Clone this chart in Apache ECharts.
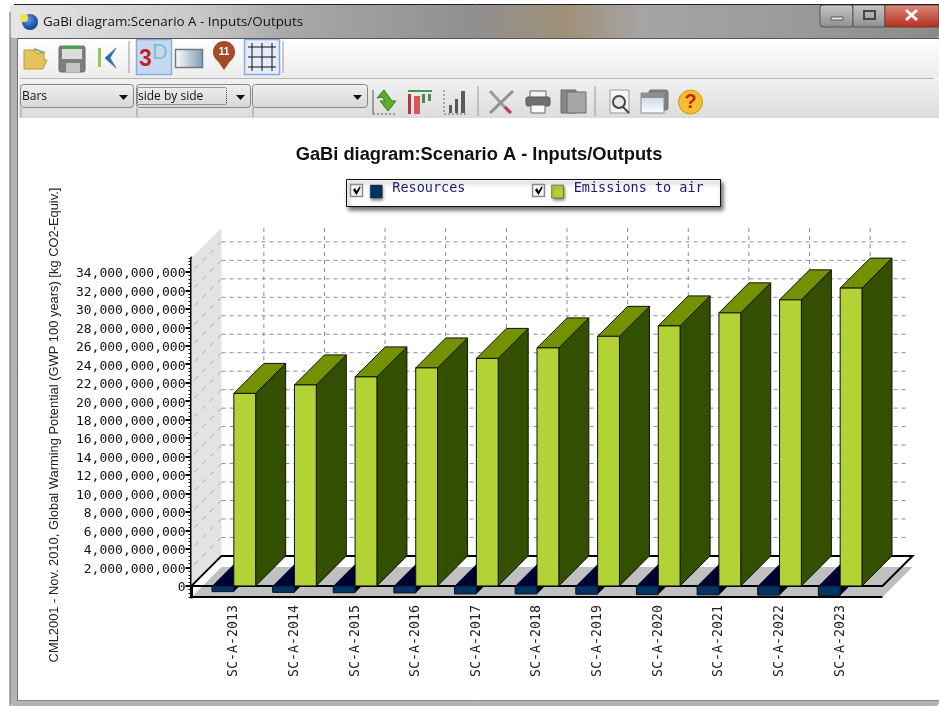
<!DOCTYPE html>
<html>
<head>
<meta charset="utf-8">
<title>GaBi diagram</title>
<style>
html,body{margin:0;padding:0;background:#fff;}
#main{width:939px;height:706px;}
</style>
<script src="https://cdn.jsdelivr.net/npm/echarts@6/dist/echarts.min.js"></script>
</head>
<body>
<div id="main"></div>
<script>
var categories = ['SC-A-2013','SC-A-2014','SC-A-2015','SC-A-2016','SC-A-2017','SC-A-2018','SC-A-2019','SC-A-2020','SC-A-2021','SC-A-2022','SC-A-2023'];
var resources = [-0.62e9,-0.70e9,-0.74e9,-0.76e9,-0.87e9,-0.87e9,-0.90e9,-0.94e9,-0.97e9,-1.0e9,-1.05e9];
var emissions = [20.84e9,21.76e9,22.63e9,23.6e9,24.63e9,25.77e9,27.02e9,28.15e9,29.56e9,30.97e9,32.24e9];
var yTicks = [0,2e9,4e9,6e9,8e9,10e9,12e9,14e9,16e9,18e9,20e9,22e9,24e9,26e9,28e9,30e9,32e9,34e9];
var seriesNames = ['Resources','Emissions to air'];

var DEPTH = 30;      // 3d shift of the back wall, px
var PAD = 12;        // floor sticks out past the category band, px
var BAR = 0.36;      // bar width as share of the band
var MONO = '"DejaVu Sans Mono", monospace';
var UI = '"Open Sans", "Noto Sans", sans-serif';

function poly(points, fill, stroke, lw) {
    return {type:'polygon', shape:{points:points}, style:{fill:fill || 'transparent', stroke:stroke || null, lineWidth:lw || 1}};
}
function seg(x1, y1, x2, y2, color, lw, dash) {
    return {type:'line', shape:{x1:x1,y1:y1,x2:x2,y2:y2}, style:{stroke:color, lineWidth:lw || 1, lineDash:dash || null, fill:null}};
}

// back wall, side wall and floor of the 3d box
function renderFrame(params, api) {
    var cs = params.coordSys;
    var left = cs.x - PAD, right = cs.x + cs.width + PAD;
    var y0 = api.coord([0, 0])[1];
    var yBottom = cs.y + cs.height;
    var yTop = cs.y;
    var d = DEPTH;
    var kids = [];
    // side wall
    kids.push(poly([[left,yTop],[left+d,yTop-d],[left+d,y0-d],[left,y0]], '#e3e3e3'));
    yTicks.forEach(function(v){
        var y = api.coord([0, v])[1];
        if (v > 0) {
            kids.push(seg(left+3, y-3, left+d, y-d, '#aaaaaa', 1, [5,6]));
            kids.push(seg(left+d, y-d, right+d-4, y-d, '#8c8c8c', 1, [4,4]));
        }
    });
    categories.forEach(function(c, i){
        var x = api.coord([i, 0])[0] + d;
        kids.push(seg(x, yTop-d, x, y0-d, '#8c8c8c', 1, [4,4]));
    });
    // floor: grey slab below, zero plane outlined on top
    kids.push(poly([[left,yBottom],[left+d,yBottom-d],[right+d,yBottom-d],[right,yBottom]], '#c0c0c0'));
    kids.push(poly([[left,y0],[left+d,y0-d],[right+d,y0-d],[right,y0]], null, '#000', 2));
    kids.push(seg(left, yBottom, right, yBottom, '#000', 2));
    return {type:'group', children:kids};
}

function renderResources(params, api) {
    var p0 = api.coord([api.value(0), 0]);
    var pv = api.coord([api.value(0), api.value(1)]);
    var w = api.size([1, 0])[0] * BAR;
    var x1 = p0[0] - w, x2 = p0[0], y0 = p0[1], y1 = pv[1], d = DEPTH;
    return {type:'group', children:[
        poly([[x1,y0],[x1+d,y0-d],[x2+d,y0-d],[x2,y0]], '#000033'),
        poly([[x2,y0],[x2+d,y0-d],[x2+d,y1-d],[x2,y1]], '#000014'),
        {type:'rect', shape:{x:x1,y:y0,width:w,height:y1-y0}, style:{fill:'#003366', stroke:'#111', lineWidth:1}}
    ]};
}

function renderEmissions(params, api) {
    var p0 = api.coord([api.value(0), 0]);
    var pv = api.coord([api.value(0), api.value(1)]);
    var w = api.size([1, 0])[0] * BAR;
    var x1 = p0[0], x2 = p0[0] + w, y0 = p0[1], y1 = pv[1], d = DEPTH;
    return {type:'group', children:[
        poly([[x2,y0],[x2+d,y0-d],[x2+d,y1-d],[x2,y1]], '#335000', '#111'),
        poly([[x1,y1],[x1+d,y1-d],[x2+d,y1-d],[x2,y1]], '#739100', '#111'),
        {type:'rect', shape:{x:x1,y:y1,width:w,height:y0-y1}, style:{fill:'#b2d235', stroke:'#111', lineWidth:1}}
    ]};
}

// ---- window chrome, all plain shapes ----
function gRect(x, y, w, h, fill, stroke, r, lw) {
    return {type:'rect', z:-1, shape:{x:x,y:y,width:w,height:h,r:r||0}, style:{fill:fill||'transparent', stroke:stroke||null, lineWidth:lw||1}};
}
function gPoly(points, fill, stroke, lw) {
    return {type:'polygon', z:5, shape:{points:points}, style:{fill:fill||'transparent', stroke:stroke||null, lineWidth:lw||1}};
}
function gLine(x1, y1, x2, y2, color, lw, dash) {
    return {type:'line', z:5, shape:{x1:x1,y1:y1,x2:x2,y2:y2}, style:{stroke:color, lineWidth:lw||1, lineDash:dash||null}};
}
function gText(x, y, text, font, fill, align) {
    return {type:'text', z:6, x:x, y:y, style:{text:text, font:font, fill:fill||'#000', textAlign:align||'left', textVerticalAlign:'middle'}};
}
function vGrad(a, b) {
    return {type:'linear',x:0,y:0,x2:0,y2:1,colorStops:[{offset:0,color:a},{offset:1,color:b}]};
}
function hGrad(stops) {
    return {type:'linear',x:0,y:0,x2:1,y2:0,colorStops:stops};
}

function chromeElements() {
    var els = [];
    // window frame
    els.push(gRect(10, 5, 929, 701, '#b4b4b4', null, 4));
    els.push(gRect(10, 5, 929, 33, hGrad([
        {offset:0,color:'#e6e6e6'},{offset:0.2,color:'#c9c9c9'},{offset:0.3,color:'#a8a8a8'},
        {offset:0.5,color:'#8f8f8f'},{offset:0.6,color:'#a09078'},{offset:0.68,color:'#a5a5a5'},
        {offset:0.85,color:'#9a9a9a'},{offset:1,color:'#8a8a8a'}]), null, 4));
    els.push(gLine(14, 4.5, 939, 4.5, '#222'));
    els.push(gLine(10, 12, 10, 706, '#666'));
    els.push(gRect(18, 38, 921, 663, '#ffffff'));
    els.push(gLine(18, 38.5, 939, 38.5, '#555'));
    els.push(gLine(17.5, 38, 17.5, 701, '#6e6e6e'));
    els.push(gLine(18, 700.5, 939, 700.5, '#888'));
    // toolbars
    els.push(gRect(19, 39, 920, 39, vGrad('#ffffff','#ececec')));
    els.push(gRect(19, 79, 920, 39, vGrad('#f1f1f1','#dcdcdc')));
    els.push(gLine(20, 78.5, 934, 78.5, '#b8b8b8'));
    // title
    els.push({type:'circle', z:5, shape:{cx:30,cy:22,r:8}, style:{fill:{type:'radial',x:0.4,y:0.35,r:0.7,colorStops:[{offset:0,color:'#5a9ae8'},{offset:1,color:'#0c3a8a'}]}}});
    els.push({type:'circle', z:5, shape:{cx:24,cy:18,r:4}, style:{fill:'#f2e24a'}});
    els.push(gText(43, 22, 'GaBi diagram:Scenario A - Inputs/Outputs', '13.4px ' + UI, '#111'));
    // caption buttons
    els.push(gRect(820, 5, 33, 22, vGrad('#c8c8c8','#8e8e8e'), '#555', 3));
    els.push(gRect(853, 5, 32, 22, vGrad('#c8c8c8','#8e8e8e'), '#555'));
    els.push(gRect(885, 5, 54, 22, vGrad('#d98a7c','#b32d1e'), '#7a3a30'));
    els.push(gRect(831, 17, 12, 3, '#e8e8e8', '#555'));
    els.push(gRect(864, 11, 11, 8, 'transparent', '#444', 0, 2));
    els.push(gLine(906, 10, 917, 20, '#f4f4f4', 3));
    els.push(gLine(917, 10, 906, 20, '#f4f4f4', 3));
    // top row icons: folder, disk, back
    els.push(gPoly([[24,50],[34,50],[36,53],[44,53],[44,60],[47,60],[43,69],[24,69]], '#e3c35c', '#b99a3c'));
    els.push(gLine(34, 49, 45, 53, '#8fa878', 2));
    els.push(gRect(59, 46, 26, 26, '#7d7d7d', '#6a6a6a', 2));
    els.push(gRect(62, 46, 20, 3, '#4aa34a'));
    els.push(gRect(62, 49, 20, 10, '#dcdcdc'));
    els.push(gRect(66, 63, 14, 9, '#c4c4c4'));
    els.push(gRect(98, 48, 3, 19, '#9ac35a'));
    els.push(gPoly([[116,48],[105,58],[116,68],[110,58]], '#2f65a8', '#4f86c6'));
    els.push(gLine(129, 41, 129, 73, '#9a9a9a'));
    els.push(gRect(136.5, 39.5, 35, 35, '#c5d8ef', '#8aa9e0', 0, 1.5));
    els.push(gText(139, 60, '3', 'bold 23px "Liberation Sans", sans-serif', '#c0202a'));
    els.push(gText(152, 53, 'D', '22px "Liberation Sans", sans-serif', '#7cc0d0'));
    els.push(gRect(175.5, 49.5, 27, 18, hGrad([{offset:0,color:'#ffffff'},{offset:1,color:'#7f9ab8'}]), '#777', 0, 1.5));
    els.push(gPoly([[213,54],[218,45],[230,45],[235,54],[224,70]], '#9c4a2a'));
    els.push({type:'circle', z:5, shape:{cx:224,cy:52,r:11}, style:{fill:'#a64a2a'}});
    els.push(gText(224, 52, '11', 'bold 10px "Liberation Sans", sans-serif', '#fff', 'center'));
    els.push(gRect(244.5, 39.5, 35, 35, '#e4edf9', '#8aa9e0', 0, 1.5));
    [252,262,272].forEach(function(x){ els.push(gLine(x, 43, x, 71, '#111')); });
    [47,57,67].forEach(function(y){ els.push(gLine(248, y, 276, y, '#111')); });
    els.push(gLine(283, 41, 283, 73, '#9a9a9a'));
    // combos
    [[20,113],[136,114],[252,115]].forEach(function(c){
        els.push(gRect(c[0]+0.5, 84.5, c[1], 23, vGrad('#f0f0f0','#d6d6d6'), '#868686', 3));
        els.push(gPoly([[c[0]+c[1]-14,95],[c[0]+c[1]-5,95],[c[0]+c[1]-9.5,100]], '#111'));
        els.push(gLine(c[0]+1, 108, c[0]+1, 117, '#999'));
    });
    els.push(gText(22, 97, 'Bars', '12px ' + UI, '#111'));
    els.push(gText(138, 97, 'side by side', '12px ' + UI, '#111'));
    els.push(gRect(137.5, 87.5, 89, 17, 'transparent', '#444', 1));
    els[els.length-1].style.lineDash = [1,1];
    els[els.length-1].z = 6;
    // bottom row icons
    els.push(gLine(373, 90, 373, 114, '#555'));
    els.push(gLine(373, 114, 397, 114, '#555', 1, [2,2]));
    els.push(gPoly([[377,98],[384,90],[392,101],[396,101],[388,111],[380,101],[385,101],[382,97]], '#5fae2a', '#2f7a20'));
    els.push(gLine(408, 91, 432, 91, '#3f9a4a', 2));
    els.push(gRect(408, 94, 3, 20, '#b8383a'));
    els.push(gRect(414, 96, 6, 18, '#d05a5a'));
    els.push(gRect(422, 94, 3, 9, '#4a8a4a'));
    els.push(gRect(428, 94, 3, 7, '#4a8a4a'));
    els.push(gLine(444, 90, 444, 114, '#6a6a6a', 1, [2,2]));
    els.push(gLine(444, 114, 468, 114, '#6a6a6a', 1, [2,2]));
    els.push(gRect(449, 105, 3, 8, '#5a5a5a'));
    els.push(gRect(455, 99, 3, 14, '#5a5a5a'));
    els.push(gRect(461, 91, 4, 22, '#5a5a5a'));
    els.push(gLine(478, 86, 478, 116, '#9a9a9a'));
    els.push(gLine(490, 91, 510, 113, '#9a9a9a', 3));
    els.push(gLine(513, 91, 490, 113, '#8f8f8f', 3));
    els.push(gLine(505, 107, 511, 113, '#c8385a', 3));
    els.push(gRect(530, 91, 16, 7, '#f4f4f4', '#666'));
    els.push(gRect(526, 97, 24, 9, '#707070', '#555', 2));
    els.push(gRect(531, 105, 14, 8, '#fafafa', '#666'));
    els.push(gRect(561, 90, 15, 23, '#888888', '#6a6a6a'));
    els.push(gRect(567, 92, 19, 21, '#a6a6a6', '#6a6a6a'));
    els.push(gLine(595, 86, 595, 116, '#9a9a9a'));
    els.push(gRect(610, 90, 19, 23, '#f4f4f4', '#9a9a9a'));
    els.push({type:'circle', z:5, shape:{cx:619,cy:102,r:6}, style:{fill:'#e8e8f0',stroke:'#444',lineWidth:2}});
    els.push(gLine(623, 107, 629, 113, '#444', 2));
    els.push(gRect(649, 90, 19, 20, '#7f7f7f', '#777', 2));
    els.push(gRect(641, 93, 23, 20, vGrad('#bcd0e4','#ffffff'), '#8a8a8a'));
    els.push(gRect(641, 93, 23, 5, '#8f8f8f'));
    els.push({type:'circle', z:5, shape:{cx:690.5,cy:102,r:12}, style:{fill:'#f2c02e',stroke:'#c99a1a',lineWidth:1}});
    els.push(gText(690.5, 102, '?', 'bold 20px "Liberation Sans", sans-serif', '#c8201a', 'center'));
    // legend box
    els.push({type:'rect', z:-1, shape:{x:346.5,y:179.5,width:374,height:27}, style:{fill:'#fff',stroke:'#111',lineWidth:1,shadowBlur:4,shadowColor:'rgba(0,0,0,0.55)',shadowOffsetX:2,shadowOffsetY:3}});
    [350,532].forEach(function(x){
        els.push(gRect(x+0.5, 184.5, 12, 12, '#f6f6f6', '#8c8c8c', 0, 1.5));
        els.push(gPoly([[x+3,190],[x+5,188],[x+6.5,191],[x+10,186],[x+10.5,188],[x+6.5,195]], '#000'));
    });
    return els;
}

var option = {
    animation: false,
    color: ['#c0c0c0','#003366','#b2d235'],
    textStyle: { fontFamily: '"Liberation Sans", sans-serif' },
    title: {
        text: 'GaBi diagram:Scenario A - Inputs/Outputs',
        left: 474,
        top: 141,
        textAlign: 'center',
        textStyle: { fontSize: 18.3, fontWeight: 'bold', color: '#111', fontFamily: '"Liberation Sans", sans-serif' }
    },
    legend: {
        data: seriesNames,
        left: 370,
        top: 181.5,
        padding: 0,
        itemWidth: 12,
        itemHeight: 13,
        itemGap: 86,
        icon: 'rect',
        selectedMode: false,
        formatter: '{a|{name}}',
        textStyle: {
            rich: { a: { fontFamily: MONO, fontSize: 13.5, color: '#1a1a7a', padding: [0,0,6,5] } }
        },
        itemStyle: { borderColor: '#333', borderWidth: 0.5, shadowBlur: 3, shadowColor: 'rgba(0,0,0,0.5)', shadowOffsetX: 1, shadowOffsetY: 2 }
    },
    grid: { left: 203.5, right: 68.5, top: 258, bottom: 109 },
    xAxis: {
        type: 'category',
        data: categories,
        axisLine: { show: false },
        axisTick: { alignWithLabel: true, length: 6, lineStyle: { color: '#000', width: 2 } },
        axisLabel: { rotate: 90, interval: 0, margin: 8, fontFamily: MONO, fontSize: 13.3, color: '#222' }
    },
    yAxis: [
        {
            type: 'value',
            min: -1.2e9,
            max: 35.5e9,
            position: 'left',
            offset: 12,
            name: 'CML2001 - Nov. 2010, Global Warming Potential (GWP 100 years) [kg CO2-Equiv.]',
            nameLocation: 'middle',
            nameGap: 131,
            nameTextStyle: { fontSize: 12.9, color: '#222', padding: [0,0,0,5], fontFamily: '"Liberation Sans", sans-serif' },
            axisLine: { show: true, onZero: false, lineStyle: { color: '#000', width: 3 } },
            axisTick: { show: true, length: 6, customValues: yTicks, lineStyle: { color: '#000', width: 2 } },
            axisLabel: {
                customValues: yTicks,
                margin: 6,
                rich: { a: { fontFamily: MONO, fontSize: 13, color: '#111', padding: [4,0,0,0] } },
                formatter: function(v){ return '{a|' + v.toLocaleString('en-US') + '}'; }
            },
            splitLine: { show: false }
        },
        {
            // short unlabelled ticks between the major ones
            type: 'value',
            min: -1.2e9,
            max: 35.5e9,
            interval: 0.4e9,
            position: 'left',
            offset: 12,
            axisLine: { show: false },
            axisTick: { show: true, length: 3, lineStyle: { color: '#000', width: 1 } },
            axisLabel: { show: false },
            splitLine: { show: false }
        }
    ],
    graphic: { elements: chromeElements() },
    series: [
        {
            id: 'frame',
            type: 'custom',
            z: 1,
            silent: true,
            renderItem: renderFrame,
            data: [[categories[0], 0]],
            encode: { x: 0, y: 1 }
        },
        {
            name: seriesNames[0],
            type: 'custom',
            z: 2,
            renderItem: renderResources,
            data: resources.map(function(v, i){ return [categories[i], v]; }),
            encode: { x: 0, y: 1 }
        },
        {
            name: seriesNames[1],
            type: 'custom',
            z: 3,
            renderItem: renderEmissions,
            data: emissions.map(function(v, i){ return [categories[i], v]; }),
            encode: { x: 0, y: 1 }
        }
    ]
};

var myChart = echarts.init(document.getElementById('main'));
myChart.setOption(option);
</script>
</body>
</html>
